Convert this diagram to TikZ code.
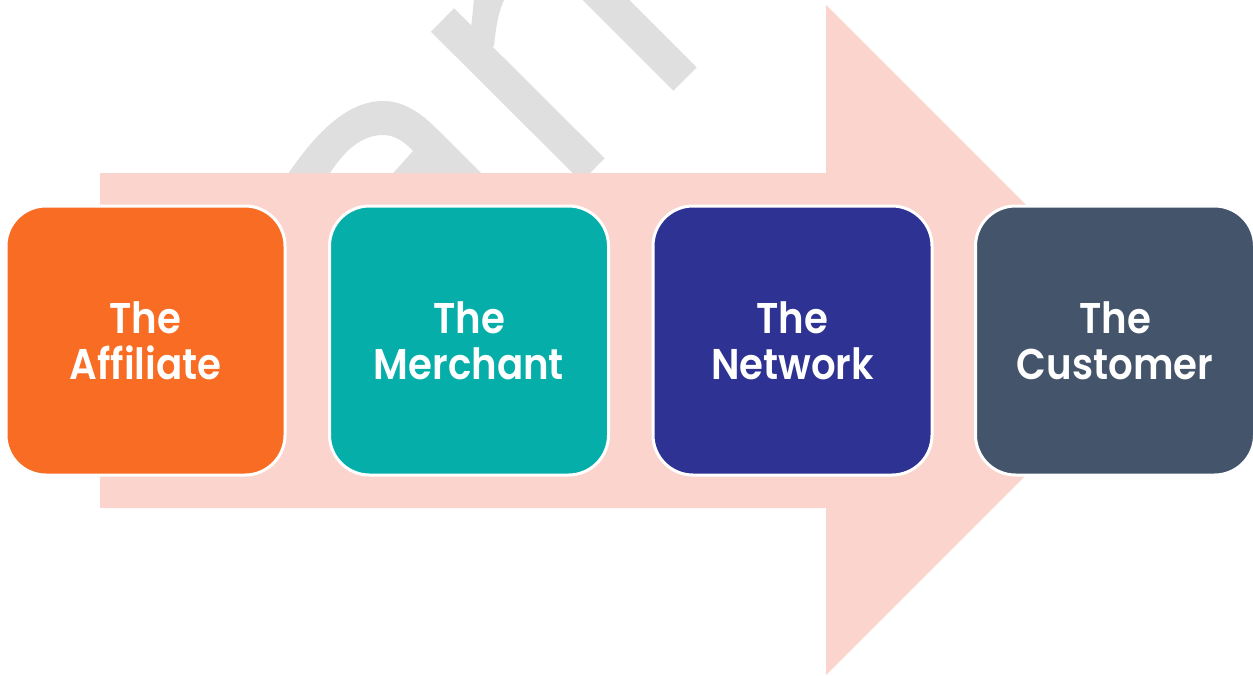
\documentclass[tikz,border=0pt]{standalone}
\usepackage{fontspec}
\newfontfamily\cardfont{Poppins}[BoldFont={Poppins SemiBold}, FakeStretch=0.9]
\definecolor{arrowpink}{HTML}{FBD5CD}
\definecolor{markgray}{HTML}{DFDFDF}
\definecolor{cardorange}{HTML}{F96C23}
\definecolor{cardteal}{HTML}{05AEA9}
\definecolor{cardindigo}{HTML}{2E3292}
\definecolor{cardslate}{HTML}{44546A}
\begin{document}
\begin{tikzpicture}[x=1pt, y=-1pt,
  card/.style={rounded corners=40pt, minimum width=279pt, minimum height=269pt,
    draw=white, line width=3pt, text=white, align=center, inner sep=0pt,
    font={\cardfont\bfseries\fontsize{43pt}{46pt}\selectfont}},
  glyphfill/.style={fill=markgray, draw=none},
  glyphstroke/.style={draw=markgray, line width=33pt}]
\useasboundingbox (0,0) rectangle (1253,675);
\clip (0,0) rectangle (1253,675);

% faint lettering behind the arrow
\fill[glyphfill] (284,180) .. controls (318,128) and (350,101) .. (383,101)
  .. controls (403,101) and (420,112) .. (437,129) -- (488,180) -- (387,180)
  -- (413,151) .. controls (404,141) and (394,135) .. (383,135)
  .. controls (362,135) and (345,150) .. (330,173) -- (325,180) -- cycle;
\draw[glyphstroke] (442.5,20) -- (593,170);
\fill[glyphfill] (474,-2) .. controls (473,10) .. (471,28) -- (480,50) -- (494,46)
  .. controls (496,25) and (499,10) .. (505,-2) -- cycle;
\draw[glyphstroke] (685,79) -- (570,-36);

% big flow arrow
\fill[arrowpink] (100,173) -- (826,173) -- (826,5) -- (1161,340)
  -- (826,675) -- (826,508) -- (100,508) -- cycle;

% the four parties
\node[card, fill=cardorange] (affiliate) at (145.5,340.5) {The\\Affiliate};
\node[card, fill=cardteal]   (merchant)  at (469,340.5)   {The\\Merchant};
\node[card, fill=cardindigo] (network)   at (792.5,340.5) {The\\Network};
\node[card, fill=cardslate]  (customer)  at (1115,340.5)  {The\\Customer};
\end{tikzpicture}
\end{document}
